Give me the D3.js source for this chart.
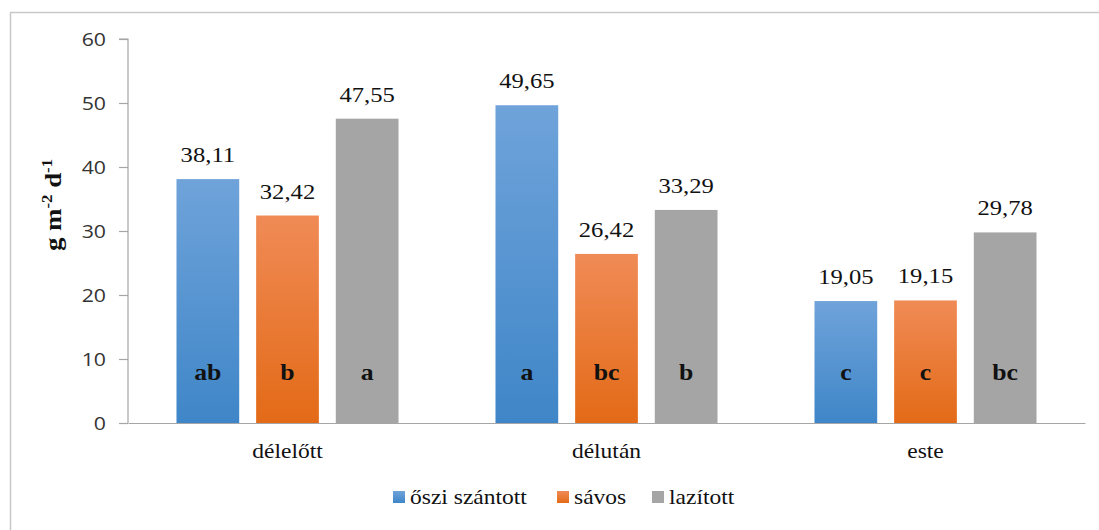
<!DOCTYPE html>
<html>
<head>
<meta charset="utf-8">
<script src="https://cdn.jsdelivr.net/npm/d3@7"></script>
<style>
  body { margin: 0; background: #fff; }
  svg { display: block; }
  .serif { font-family: "Times New Roman", "Liberation Serif", serif; }
  .sans { font-family: "Open Sans", "Liberation Sans", sans-serif; }
</style>
</head>
<body>
<svg id="chart" width="1099" height="530"></svg>
<script>
// data
const categories = ["délelőtt", "délután", "este"];
const series = ["őszi szántott", "sávos", "lazított"];
const oszi = [38.11, 49.65, 19.05];
const savos = [32.42, 26.42, 19.15];
const lazitott = [47.55, 33.29, 29.78];
const oszLetters = ["ab", "a", "c"];
const savLetters = ["b", "bc", "c"];
const lazLetters = ["a", "b", "bc"];
const yTicks = [0, 10, 20, 30, 40, 50, 60];

const values = [oszi, savos, lazitott];
const letters = [oszLetters, savLetters, lazLetters];

const rows = categories.map((c, i) => ({
  cat: c,
  bars: series.map((s, j) => ({ s, j, v: values[j][i], l: letters[j][i] }))
}));

const svg = d3.select("#chart");
const SX = 1.12; // the source picture is stretched sideways

// outer frame
svg.append("rect")
  .attr("x", 10.5).attr("y", 12.5)
  .attr("width", 1100).attr("height", 530)
  .attr("fill", "none").attr("stroke", "#c8c8c8").attr("stroke-width", 1.5);

const defs = svg.append("defs");
const grads = [
  ["#6fa3da", "#3f86c8"],
  ["#f08b56", "#e36a17"],
  ["#a5a5a5", "#a5a5a5"]
];
grads.forEach((g, i) => {
  const lg = defs.append("linearGradient").attr("id", "g" + i)
    .attr("x1", 0).attr("y1", 0).attr("x2", 0).attr("y2", 1);
  lg.append("stop").attr("offset", "0%").attr("stop-color", g[0]);
  lg.append("stop").attr("offset", "100%").attr("stop-color", g[1]);
});

const x0 = d3.scaleBand().domain(categories).range([128, 1085])
  .paddingInner(0.304).paddingOuter(0.152);
const x1 = d3.scaleBand().domain(series).range([0, x0.bandwidth()])
  .paddingInner(0.2125);
const y = d3.scaleLinear().domain([0, 60]).range([423, 39]);

// y axis
const yAxis = svg.append("g").attr("transform", "translate(128,0)")
  .call(d3.axisLeft(y).tickValues(yTicks).tickSize(9).tickPadding(0));
yAxis.attr("font-family", null);
yAxis.select(".domain").attr("stroke", "#a6a6a6").attr("stroke-width", 1.2)
  .attr("d", `M-9,${y(60)}H0V${y(0)}`);
yAxis.selectAll(".tick line").attr("stroke", "#a6a6a6").attr("stroke-width", 1.2);
yAxis.selectAll(".tick text").attr("class", "sans").attr("font-size", 19)
  .attr("fill", "#333").attr("x", 0)
  .attr("transform", `translate(-22,0) scale(${SX},1)`);

// bars
const groups = svg.selectAll(".grp").data(rows).join("g")
  .attr("transform", d => `translate(${x0(d.cat)},0)`);

groups.selectAll("rect").data(d => d.bars).join("rect")
  .attr("x", d => x1(d.s))
  .attr("y", d => y(d.v))
  .attr("width", x1.bandwidth())
  .attr("height", d => y(0) - y(d.v))
  .attr("fill", d => `url(#g${d.j})`);

groups.selectAll(".val").data(d => d.bars).join("text")
  .attr("class", "val serif")
  .attr("transform", d => `translate(${x1(d.s) + x1.bandwidth() / 2},${y(d.v) - 17}) scale(${SX},1)`)
  .attr("text-anchor", "middle")
  .attr("font-size", 22).attr("fill", "#111")
  .text(d => d3.format(".2f")(d.v).replace(".", ","));

groups.selectAll(".let").data(d => d.bars).join("text")
  .attr("class", "let serif")
  .attr("transform", d => `translate(${x1(d.s) + x1.bandwidth() / 2},${y(0) - 43}) scale(${SX},1)`)
  .attr("text-anchor", "middle")
  .attr("font-size", 23).attr("font-weight", "bold")
  .attr("fill", "#111")
  .text(d => d.l);

// x axis line
const xAxis = svg.append("g").attr("transform", `translate(0,${y(0)})`)
  .call(d3.axisBottom(x0).tickSize(0).tickPadding(20));
xAxis.attr("font-family", null);
xAxis.select(".domain").attr("stroke", "#a6a6a6").attr("stroke-width", 1.2);
xAxis.selectAll(".tick text").attr("class", "serif").attr("font-size", 21)
  .attr("fill", "#111").attr("transform", `scale(${SX},1)`)
  .attr("x", 0);

// y label
const yl = svg.append("text")
  .attr("class", "serif")
  .attr("transform", `translate(61,205) rotate(-90) scale(${SX},1)`)
  .attr("text-anchor", "middle")
  .attr("font-size", 24).attr("font-weight", "bold")
  .attr("fill", "#111");
yl.append("tspan").text("g m");
yl.append("tspan").attr("font-size", 15).attr("dy", -9).text("-2");
yl.append("tspan").attr("dy", 9).text(" d");
yl.append("tspan").attr("font-size", 15).attr("dy", -9).text("-1");

// legend
const legendX = [393, 557, 652];
const leg = svg.append("g");
series.forEach((s, i) => {
  const g = leg.append("g").attr("transform", `translate(${legendX[i]},497)`);
  g.append("rect").attr("x", 0).attr("y", -6).attr("width", 12).attr("height", 12)
    .attr("fill", `url(#g${i})`);
  g.append("text").attr("class", "serif")
    .attr("transform", `translate(17,7) scale(${SX},1)`)
    .attr("font-size", 21).attr("fill", "#111")
    .text(s);
});
</script>
</body>
</html>
